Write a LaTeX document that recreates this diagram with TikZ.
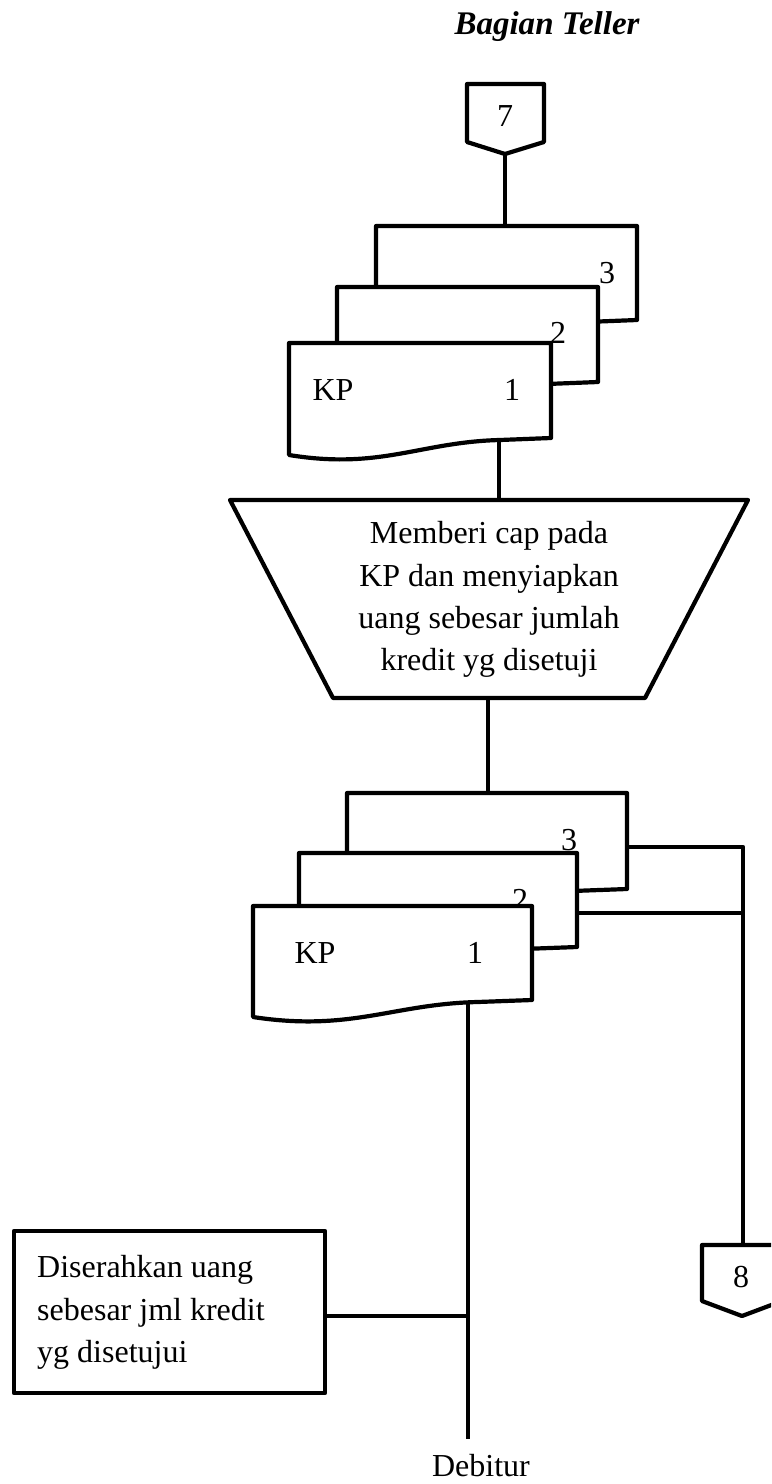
\documentclass[tikz,border=0pt]{standalone}
\usepackage{fontspec}
\setmainfont{Liberation Serif}
\begin{document}
% one unit = 1bp, y grows downwards
\newcommand{\docpage}[5]{% left, top, right, bottom-right y, bottom-left y
  \pgfmathsetmacro\dw{#3-#1}%
  \filldraw[shape line] (#1,#2) -- (#3,#2) -- (#3,#4) -- ({#3-0.195*\dw},{#4+2})
    .. controls ({#3-0.5*\dw},{#4+4}) and ({#1+0.35*\dw},{#4+32}) .. (#1,#5) -- cycle;}
\begin{tikzpicture}[x=1bp,y=-1bp,
  shape line/.style={line width=4.2bp, line join=round, fill=white, draw=black},
  link/.style={line width=4.2bp, line join=round},
  txt/.style={font=\fontsize{32bp}{42.5bp}\selectfont, inner sep=0pt, anchor=base},
  ltxt/.style={txt, anchor=base west}]
\useasboundingbox (0,0) rectangle (771,1484);
\clip (0,0) rectangle (771,1484);

% heading
\node[txt, font=\fontsize{33bp}{40bp}\selectfont\bfseries\itshape] (title) at (547,35) {Bagian Teller};

% anchor points of the connectors
\coordinate (c7bot) at (505,154);
\coordinate (d3top) at (505,228);
\coordinate (d1bot) at (499,438);
\coordinate (proctop) at (499,500);
\coordinate (procbot) at (488,698);
\coordinate (e3top) at (488,795);
\coordinate (e3right) at (627,847);
\coordinate (e2right) at (577,913);
\coordinate (rail) at (743,847);
\coordinate (railmid) at (743,913);
\coordinate (c8top) at (743,1245);
\coordinate (e1bot) at (468,1000);
\coordinate (boxjoin) at (468,1316);
\coordinate (flowend) at (468,1439);

% connectors
\draw[link] (c7bot) -- (d3top);
\draw[link] (d1bot) -- (proctop);
\draw[link] (procbot) -- (e3top);
\draw[link] (e3right) -- (rail) -- (c8top);
\draw[link] (e2right) -- (railmid);
\draw[link] (e1bot) -- (flowend);

% off-page connector 7
\filldraw[shape line] (467,84) -- (544,84) -- (544,142) -- (505,154) -- (467,142) -- cycle;
\node[txt] (n7) at (505,127) {7};

% first set of KP copies
\docpage{376}{226}{637}{320}{337}
\node[txt] (a3) at (607,283) {3};
\docpage{337}{287}{598}{382}{399}
\node[txt] (a2) at (558,343) {2};
\docpage{289}{343}{551}{438}{455}
\node[txt] (a1kp) at (333,400) {KP};
\node[txt] (a1) at (512,400) {1};

% manual operation
\filldraw[shape line] (230,500) -- (748,500) -- (645,698) -- (333,698) -- cycle;
\node[txt] (p1) at (489,543) {Memberi cap pada};
\node[txt] (p2) at (489,586) {KP dan menyiapkan};
\node[txt] (p3) at (489,628) {uang sebesar jumlah};
\node[txt] (p4) at (489,670) {kredit yg disetuji};

% second set of KP copies
\docpage{347}{793}{627}{889}{906}
\node[txt] (b3) at (569,850) {3};
\docpage{299}{853}{577}{947}{964}
\node[txt] (b2) at (520,910) {2};
\docpage{253}{906}{532}{1000}{1017}
\node[txt] (b1kp) at (315,963) {KP};
\node[txt] (b1) at (475,963) {1};

% off-page connector 8
\filldraw[shape line] (702,1245) -- (782,1245) -- (782,1301) -- (742,1316) -- (702,1301) -- cycle;
\node[txt] (n8) at (741,1287) {8};

% hand-over box
\node[draw, line width=4.2bp, line join=round, fill=white, minimum width=311bp,
      minimum height=162bp, inner sep=0pt] (box) at (169.5,1312) {};
\draw[link] (box.east |- boxjoin) -- (boxjoin);
\node[ltxt] (h1) at (37,1277) {Diserahkan uang};
\node[ltxt] (h2) at (37,1320) {sebesar jml kredit};
\node[ltxt] (h3) at (37,1362) {yg disetujui};

% recipient
\node[txt] (debitur) at (481,1476) {Debitur};
\end{tikzpicture}
\end{document}
